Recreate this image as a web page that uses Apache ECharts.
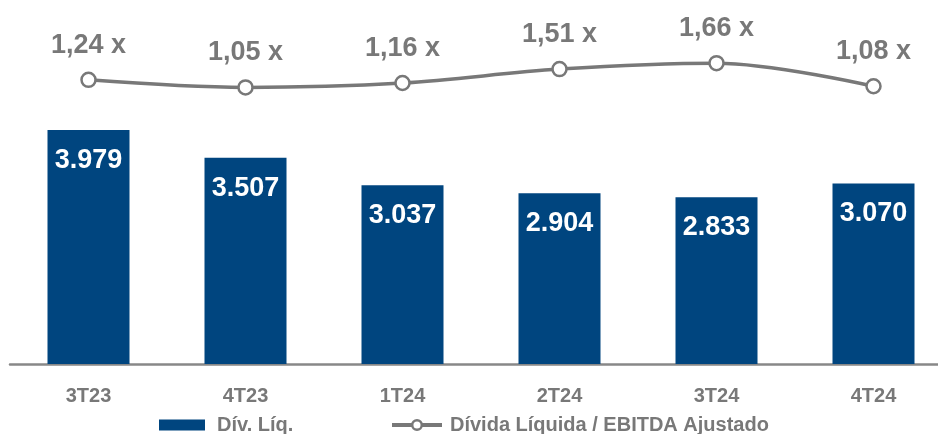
<!DOCTYPE html>
<html>
<head>
<meta charset="utf-8">
<script src="https://cdn.jsdelivr.net/npm/echarts@6/dist/echarts.min.js"></script>
<style>html,body{margin:0;padding:0;background:#fff;}#c{width:938px;height:434px;}</style>
</head>
<body>
<div id="c"></div>
<script>
var categories = ['3T23', '4T23', '1T24', '2T24', '3T24', '4T24'];
var divLiq = [3979, 3507, 3037, 2904, 2833, 3070];
var ratio = [1.24, 1.05, 1.16, 1.51, 1.66, 1.08];
var barName = 'Dív. Líq.';
var lineName = 'Dívida Líquida / EBITDA Ajustado';

var FONT = 'Liberation Sans';
var GRAY = '#787878';
var BLUE = '#00457F';

var chart = echarts.init(document.getElementById('c'), null, {renderer: 'canvas'});
chart.setOption({
  animation: false,
  textStyle: {fontFamily: FONT},
  grid: {left: 10, right: -14, top: 11, bottom: 70, containLabel: false, outerBoundsMode: 'none'},
  legend: [{
    data: [{name: barName, icon: 'rect'}],
    left: 154, top: 410,
    itemWidth: 46, itemHeight: 11,
    textStyle: {fontFamily: FONT, fontSize: 20, fontWeight: 'bold', color: GRAY, padding: [0, 0, 0, 7]}
  }, {
    data: [lineName],
    left: 385, top: 410,
    itemWidth: 50, itemHeight: 12,
    lineStyle: {width: 4, color: GRAY},
    itemStyle: {color: '#ffffff', borderColor: GRAY, borderWidth: 2.5},
    textStyle: {fontFamily: FONT, fontSize: 20, fontWeight: 'bold', color: GRAY, padding: [0, 0, 0, 3]}
  }],
  xAxis: {
    type: 'category',
    data: categories,
    boundaryGap: true,
    axisLine: {lineStyle: {color: '#888888', width: 2.5}},
    axisTick: {show: false},
    axisLabel: {fontFamily: FONT, fontSize: 20, fontWeight: 'bold', color: GRAY, margin: 22}
  },
  yAxis: [{
    type: 'value', min: 0, max: 6000, show: false, splitLine: {show: false}
  }, {
    type: 'value', min: -5.9, max: 2.97, show: false, splitLine: {show: false}
  }],
  series: [{
    name: barName,
    type: 'bar',
    data: divLiq,
    barWidth: 82,
    itemStyle: {color: BLUE},
    label: {
      show: true, position: 'insideTop', distance: 17,
      fontFamily: FONT, fontSize: 27, fontWeight: 'bold', color: '#ffffff',
      formatter: function (p) { return p.value.toLocaleString('de-DE'); }
    }
  }, {
    name: lineName,
    type: 'line',
    yAxisIndex: 1,
    data: ratio,
    smooth: 0.35,
    symbol: 'circle',
    symbolSize: 14,
    lineStyle: {color: GRAY, width: 3.5},
    itemStyle: {color: '#ffffff', borderColor: GRAY, borderWidth: 2.5},
    label: {
      show: true, position: 'top', distance: 13,
      fontFamily: FONT, fontSize: 27, fontWeight: 'bold', color: GRAY,
      formatter: function (p) { return p.value.toFixed(2).replace('.', ',') + ' x'; }
    }
  }]
});
</script>
</body>
</html>
